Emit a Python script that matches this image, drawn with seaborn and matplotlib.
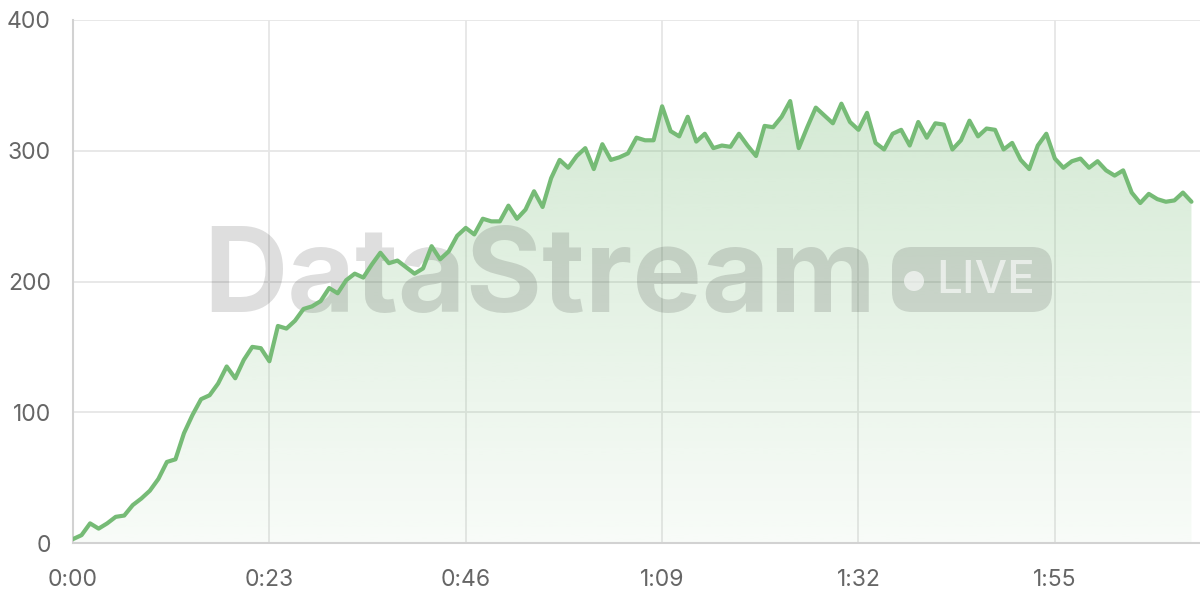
import numpy as np
import matplotlib
matplotlib.use("Agg")
import matplotlib.pyplot as plt
from matplotlib.patches import FancyBboxPatch, Circle, PathPatch
import seaborn as sns

# ---------------------- DATOS ----------------------
values = [
    3, 6, 15, 11, 15, 20, 21, 29, 34, 40,
    49, 62, 64, 84, 98, 110, 113, 122, 135, 126,
    140, 150, 149, 139, 166, 164, 170, 179, 181, 185,
    195, 191, 201, 206, 203, 213, 222, 214, 216, 211,
    206, 210, 227, 217, 223, 235, 241, 236, 248, 246,
    246, 258, 248, 255, 269, 257, 279, 293, 287, 296,
    302, 286, 305, 293, 295, 298, 310, 308, 308, 334,
    315, 311, 326, 307, 313, 302, 304, 303, 313, 304,
    296, 319, 318, 326, 338, 302, 318, 333, 327, 321,
    336, 322, 316, 329, 306, 301, 313, 316, 304, 322,
    310, 321, 320, 301, 308, 323, 311, 317, 316, 301,
    306, 293, 286, 304, 313, 294, 287, 292, 294, 287,
    292, 285, 281, 285, 268, 260, 267, 263, 261, 262,
    268, 261,
]
seconds = list(range(len(values)))

x_ticks = [0, 23, 46, 69, 92, 115]
x_tick_labels = ["0:00", "0:23", "0:46", "1:09", "1:32", "1:55"]
y_ticks = [0, 100, 200, 300, 400]
y_tick_labels = ["0", "100", "200", "300", "400"]

watermark = "DataStream"
badge_text = "LIVE"
# ---------------------------------------------------

GREEN = "#76bb76"
GRID = "#e6e6e6"
SPINE = "#d2d2d2"
LABEL = "#666666"

sns.set_theme(style="whitegrid")
plt.rcParams["font.family"] = ["Inter", "DejaVu Sans"]

fig = plt.figure(figsize=(12, 6), dpi=100)
ax = fig.add_axes([73 / 1200, 57 / 600, 1127 / 1200, 523 / 600])
ax.set_facecolor("white")

# Relleno con degradado bajo la curva
poly = ax.fill_between(seconds, values, 0, color="none", linewidth=0)
clip = PathPatch(poly.get_paths()[0], transform=ax.transData,
                 facecolor="none", edgecolor="none")
ax.add_patch(clip)
rgb = matplotlib.colors.to_rgb(GREEN)
grad = np.zeros((256, 1, 4))
grad[..., 0], grad[..., 1], grad[..., 2] = rgb
grad[..., 3] = np.linspace(0.05, 0.36, 256)[:, None]
im = ax.imshow(grad, extent=[0, seconds[-1], 0, 400], origin="lower",
               aspect="auto", zorder=1, interpolation="bilinear")
im.set_clip_path(clip)

# Marca de agua
ax.text(540 / 1200, 1 - 312 / 600, watermark, transform=fig.transFigure,
        ha="center", va="baseline", fontsize=84, fontweight="bold",
        family=["Inter", "DejaVu Sans"], color="black", alpha=0.13, zorder=2)
badge = FancyBboxPatch((8.92, 2.88), 1.60, 0.65,
                       boxstyle="round,pad=0,rounding_size=0.2",
                       transform=fig.dpi_scale_trans, facecolor="black",
                       edgecolor="none", alpha=0.12, zorder=2)
ax.add_patch(badge)
badge.set_clip_on(False)
dot = Circle((9.14, 3.19), 0.10, transform=fig.dpi_scale_trans,
             facecolor="white", edgecolor="none", alpha=0.6, zorder=2)
ax.add_patch(dot)
dot.set_clip_on(False)
ax.text(9.855, 3.19, badge_text, transform=fig.dpi_scale_trans,
        ha="center", va="center", fontsize=33, fontweight="medium",
        color="white", alpha=0.6, zorder=2)

# Línea
sns.lineplot(x=seconds, y=values, ax=ax, color=GREEN, linewidth=3, zorder=3)

ax.set_xlim(0, 132)
ax.set_ylim(0, 400)
ax.set_xticks(x_ticks)
ax.set_xticklabels(x_tick_labels)
ax.set_yticks(y_ticks)
ax.set_yticklabels(y_tick_labels)
ax.set_xlabel("")
ax.set_ylabel("")

ax.grid(True, color=GRID, linewidth=1.3)
ax.tick_params(axis="both", colors=SPINE, labelcolor=LABEL, labelsize=16.5,
               length=11, width=1.3)
ax.tick_params(axis="x", pad=8)
ax.tick_params(axis="y", pad=5)
for side in ["top", "right"]:
    ax.spines[side].set_visible(False)
for side in ["left", "bottom"]:
    ax.spines[side].set_color(SPINE)
    ax.spines[side].set_linewidth(1.5)

fig.savefig("out.png", dpi=100, facecolor="white")
